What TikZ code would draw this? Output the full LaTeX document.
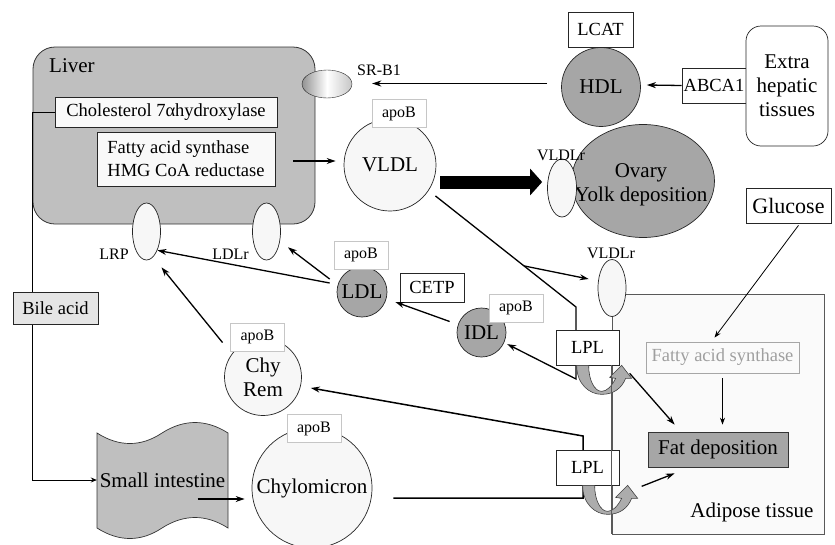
\documentclass[tikz,border=0pt]{standalone}
\usepackage{fontspec}
\setmainfont{Liberation Serif}
\usetikzlibrary{arrows.meta,shapes.geometric,calc}

% gray u-turn arrow below an LPL box
\newcommand{\lplturn}[1]{%
  \filldraw[fill=gray!65, draw=black!75, line width=0.6pt, shift={(#1)}]
    (0,0) .. controls (0,19) and (13,29) .. (25,29)
    .. controls (37,29) and (45,23) .. (49,13) -- (55,13) -- (45,0) -- (33,12) -- (39,13)
    .. controls (35,21) and (30,26) .. (25,26)
    .. controls (18,26) and (12,15) .. (12,0) -- cycle;}

\begin{document}
\begin{tikzpicture}[x=1pt, y=-1pt,
    bigtxt/.style={font=\fontsize{21}{24}\selectfont},
    midtxt/.style={font=\fontsize{18.5}{23}\selectfont},
    smalltxt/.style={font=\fontsize{16}{18}\selectfont, inner sep=0pt},
    conn/.style={line width=1.3pt, -{Stealth[length=9pt,width=6pt]}},
    thinconn/.style={line width=0.8pt, -{Stealth[length=7pt,width=5pt]}},
    bigarrow/.style={line width=13pt, -{Triangle[length=12pt,width=26pt]}},
    box/.style={draw=black!85, fill=white, rectangle, inner sep=0pt, line width=0.7pt, midtxt},
    apob/.style={draw=gray!45, fill=white, rectangle, inner sep=0pt, minimum width=54pt, minimum height=28pt, smalltxt},
    particle/.style={draw=black!85, circle, fill=gray!6, inner sep=0pt, line width=0.7pt, bigtxt},
    dparticle/.style={particle, fill=gray!70},
    receptor/.style={draw=black!85, ellipse, fill=gray!6, inner sep=0pt, line width=0.7pt, minimum width=28pt, minimum height=57pt}]

	\useasboundingbox (0,0) rectangle (835,544);

	% draw the adipose tissue
	\node[draw=black!65, fill=gray!4, minimum width=212pt, minimum height=240pt, inner sep=0pt, line width=0.7pt] (adipose) at (718,414) {};
	\node[bigtxt] (adiposelbl) at (752,512) {Adipose tissue};

	% draw the liver with its enzymes
	\node[draw=black!80, fill=gray!50, rounded corners=22pt, minimum width=282pt, minimum height=177pt, line width=0.8pt] (liver) at (174,135.5) {};
	\node[bigtxt, anchor=base west, inner sep=0pt] (liverlbl) at (49,72) {Liver};
	\node[box, fill=gray!5, minimum width=222pt, minimum height=30pt] (chol) at (166,112) {Cholesterol 7αhydroxylase};
	\node[box, fill=gray!5, minimum width=178pt, minimum height=54pt, align=left] (fasl) at (186,159) {Fatty acid synthase\\HMG CoA reductase};

	% draw the small intestine
	\filldraw[fill=gray!50, draw=black!80, line width=0.7pt] (97,433) .. controls (119,447) and (141,447) .. (162,433)
		.. controls (184,419) and (206,419) .. (228,433) -- (228,528)
		.. controls (206,514) and (184,514) .. (162,528) .. controls (141,542) and (119,542) .. (97,528) -- cycle;
	\node[bigtxt, minimum width=131pt, minimum height=20pt, inner sep=0pt] (si) at (162.5,480) {Small intestine};

	% draw the bile acid path
	\draw[line width=0.8pt] (liver.west |- chol.west) -- (chol.west);
	\draw[line width=0.8pt, -{Stealth[length=6pt,width=5pt]}] (liver.west |- chol.west) -- (liver.west |- si.west) -- (si.west);
	\node[box, fill=gray!20, minimum width=85pt, minimum height=32pt] (bile) at (55.5,308) {Bile acid};

	% draw the receptors
	\node[receptor] (lrp) at (146.5,231.5) {};
	\node[receptor] (ldlr) at (266.5,231.5) {};
	\node[smalltxt, anchor=east] (lrplbl) at (129,254) {LRP};
	\node[smalltxt, anchor=east] (ldlrlbl) at (249,254) {LDLr};
	\node[draw=black!85, ellipse, minimum width=50pt, minimum height=28pt, inner sep=0pt,
		left color=gray!85, right color=gray!45, middle color=white] (srb1) at (327,84) {};
	\node[smalltxt, anchor=west] (srb1lbl) at (357,70) {SR-B1};

	% draw the lipoproteins
	\node[particle, minimum size=92pt] (vldl) at (390,165) {VLDL};
	\node[apob] (vldlapo) at (399,113.5) {apoB};
	\node[dparticle, minimum size=79pt] (hdl) at (601,87) {HDL};
	\node[dparticle, minimum size=50pt] (ldl) at (362,292) {LDL};
	\node[apob] (ldlapo) at (361,255) {apoB};
	\node[dparticle, minimum size=49pt] (idl) at (481.5,332.5) {IDL};
	\node[apob] (idlapo) at (516,308) {apoB};
	\node[particle, minimum size=77pt, align=center] (chyrem) at (263,377) {Chy\\Rem};
	\node[apob] (chyremapo) at (257.5,337) {apoB};
	\node[particle, minimum size=120pt] (chylo) at (312,488) {Chylomicron};
	\node[apob] (chyloapo) at (314,428.5) {apoB};

	% draw the ovary
	\node[draw=black!85, ellipse, fill=gray!70, minimum width=143pt, minimum height=113pt, line width=0.7pt] (ovary) at (643,181) {};
	\node[bigtxt, align=center] (ovarylbl) at (641,185) {Ovary\\Yolk deposition};
	\node[receptor, minimum width=29pt, minimum height=58pt] (vldlro) at (562,188) {};
	\node[smalltxt] (vldlrolbl) at (561,155) {VLDLr};

	% draw the other boxes
	\node[box, minimum width=65pt, minimum height=35pt] (lcat) at (600.5,29.5) {LCAT};
	\node[box, minimum width=64pt, minimum height=35pt] (abca1) at (714,85.5) {ABCA1};
	\node[draw=black!85, fill=white, rounded corners=15pt, minimum width=82pt, minimum height=120pt, line width=0.7pt, bigtxt, align=center] (extra) at (787,86) {Extra\\hepatic\\tissues};
	\node[box, minimum width=85pt, minimum height=35pt, font=\fontsize{22}{26}\selectfont] (glucose) at (788.5,205.5) {Glucose};
	\node[box, minimum width=64pt, minimum height=29pt] (cetp) at (432,287.5) {CETP};
	\node[draw=gray!70, fill=gray!4, minimum width=153pt, minimum height=31pt, inner sep=0pt, line width=0.7pt, midtxt, text=gray!75] (fasa) at (722.5,357.5) {Fatty acid synthase};
	\node[draw=black!80, fill=gray!70, minimum width=140pt, minimum height=35pt, inner sep=0pt, line width=0.7pt, bigtxt] (fatdep) at (718,449.5) {Fat deposition};
	\node[receptor] (vldlra) at (612,288) {};
	\node[smalltxt] (vldlralbl) at (611,253) {VLDLr};

	% draw the transport arrows
	\draw[conn] ([shift={(18,2)}]fasl.east) -- ([shift={(-8,-4)}]vldl.west);
	\draw[conn] ([shift={(-14,-3.5)}]hdl.west) -- ([shift={(20,-0.5)}]srb1.east);
	\draw[conn] (abca1.west) -- ([shift={(6,-2)}]hdl.east);
	\draw[bigarrow] ([shift={(4,17)}]vldl.east) -- ([shift={(-5,-6)}]vldlro.west);
	\draw[conn] ([shift={(-7,-11)}]idl.west) -- ([shift={(8,10)}]ldl.east);
	\draw[conn] ([shift={(-7,-13)}]ldl.west) -- ([shift={(8,6)}]ldlr.-36);
	\draw[conn] ([shift={(-7,-9)}]ldl.west) -- (lrp.-60);
	\draw[conn] ([shift={(-13,-7)}]chyrem.north west) -- ([shift={(15,7)}]lrp.south);
	\draw[conn] ([shift={(35,19)}]si.center) -- ([shift={(-7,11)}]chylo.west);
	\draw[thinconn] ([shift={(10,2)}]glucose.south) -- ([shift={(-8,-4)}]fasa.north);
	\draw[thinconn] ([shift={(0,5)}]fasa.south) -- ([shift={(4.5,-7)}]fatdep.north);

	% draw the VLDL and chylomicron paths through LPL
	\coordinate (vstart) at ([shift={(7,5)}]vldl.-34);
	\coordinate (vb) at (576,307);
	\coordinate (vc) at (576,379);
	\coordinate (vbr) at ($(vstart)!0.63!(vb)$);
	\draw[conn] (vstart) -- (vb) -- (vc) -- ([shift={(3,1.5)}]idl.-24);
	\draw[conn] (vbr) -- ([shift={(-9,-9)}]vldlra.west);
	\coordinate (cstart) at ([shift={(21,10)}]chylo.east);
	\coordinate (ca) at (583,498);
	\coordinate (cb) at (583,436);
	\draw[conn, line width=1.5pt] (cstart) -- (ca) -- (cb) -- ([shift={(9,11)}]chyrem.east);

	% draw the LPL boxes with their u-turn arrows
	\node[box, minimum width=63pt, minimum height=35pt] (lpla) at (587.5,347.5) {LPL};
	\node[box, minimum width=63pt, minimum height=35pt] (lplb) at (587.5,467.5) {LPL};
	\coordinate (turna) at ([shift={(21,0)}]lpla.south west);
	\coordinate (turnb) at ([shift={(27,0)}]lplb.south west);
	\lplturn{turna}
	\lplturn{turnb}
	\draw[black!65, line width=0.7pt] (adipose.north west |- lpla.south) -- (adipose.south west);
	\draw[conn] ([shift={(53,8)}]turna) -- ([shift={(27,-7)}]fatdep.north west);
	\draw[conn] ([shift={(59,1)}]turnb) -- ([shift={(27,6)}]fatdep.south west);
\end{tikzpicture}
\end{document}
